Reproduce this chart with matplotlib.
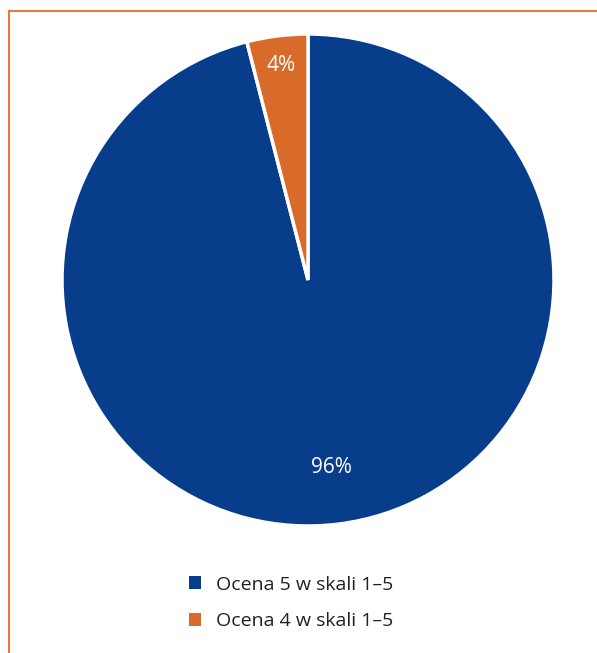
import matplotlib
matplotlib.use("Agg")
import matplotlib.pyplot as plt
import numpy as np
from matplotlib.patches import Patch
from matplotlib.lines import Line2D

labels = ["Ocena 5 w skali 1–5", "Ocena 4 w skali 1–5"]
values = [96, 4]
colors = ["#083d8b", "#d86a2a"]
label_radius = [0.77, 0.88]

plt.rcParams['font.family'] = ['Open Sans', 'DejaVu Sans']

W, H = 597, 653
fig = plt.figure(figsize=(W/100, H/100), dpi=100)

cx, cy, r = 308, 280, 246
ax = fig.add_axes([(cx - r)/W, (H - cy - r)/H, 2*r/W, 2*r/H])
wedges, _ = ax.pie(values, colors=colors, startangle=90, counterclock=False,
                   radius=1, wedgeprops=dict(edgecolor="white", linewidth=2.5))
ax.set_xlim(-1, 1); ax.set_ylim(-1, 1)
ax.set_aspect('equal')
ax.axis('off')

for w, v, lr in zip(wedges, values, label_radius):
    th = np.deg2rad((w.theta1 + w.theta2) / 2)
    ax.text(lr*np.cos(th), lr*np.sin(th), f"{v}%", color="white",
            ha="center", va="center", fontsize=15)

# frame lines (top and left)
frame_col = "#e57a3e"
fig.add_artist(Line2D([8.5/W, 8.5/W], [0, 1 - 11/H], color=frame_col, lw=1.5, transform=fig.transFigure))
fig.add_artist(Line2D([8.5/W, 1], [1 - 11/H, 1 - 11/H], color=frame_col, lw=1.5, transform=fig.transFigure))

handles = [Patch(facecolor=c, edgecolor='none') for c in colors]
fig.legend(handles, labels, loc="upper left", bbox_to_anchor=(171/W, 1 - 558/H),
           frameon=False, fontsize=14, handlelength=0.65, handleheight=0.65,
           handletextpad=0.75, labelspacing=0.95, labelcolor="#231f20")

fig.savefig("out.png", dpi=100, facecolor="white")
